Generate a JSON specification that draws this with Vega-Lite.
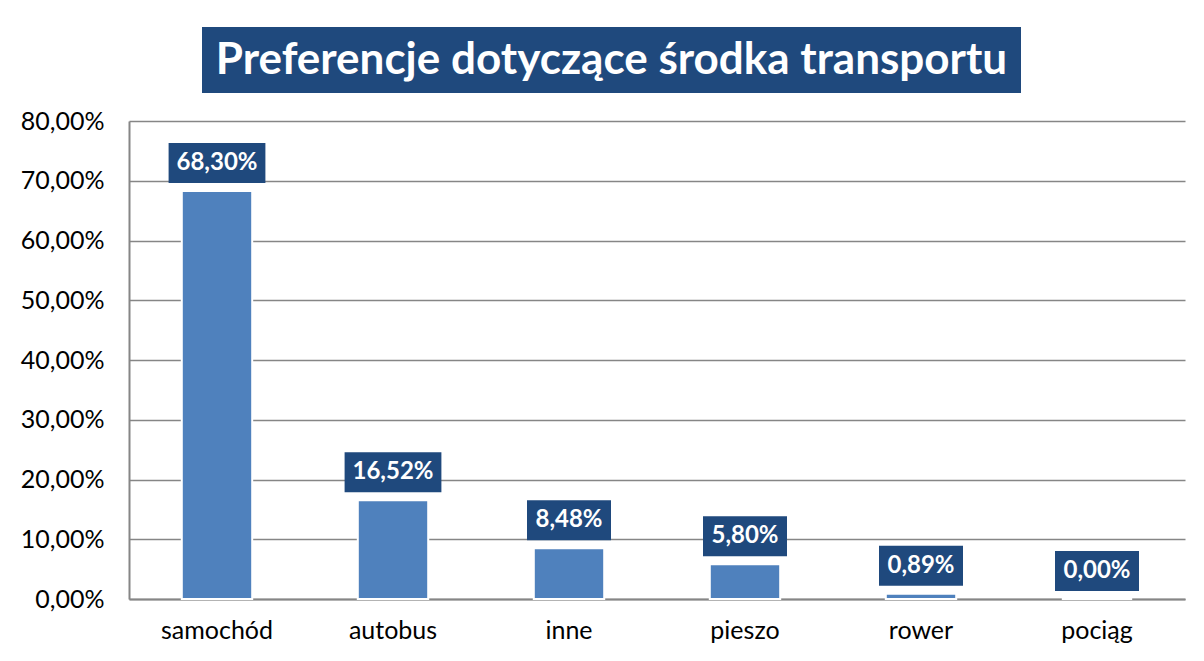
{
  "$schema": "https://vega.github.io/schema/vega-lite/v6.json",
  "config": {
    "locale": {"number": {"decimal": ",", "thousands": " ", "grouping": [3], "currency": ["", " zł"]}},
    "font": "Lato",
    "view": {"stroke": null},
    "background": "white"
  },
  "padding": {"left": 20, "top": 27, "right": 5, "bottom": 5},
  "bounds": "full",
  "spacing": 16,
  "vconcat": [
    {
      "spacing": 0,
      "hconcat": [
        {
          "width": 73,
          "height": 66,
          "data": {"values": []},
          "mark": {"type": "point", "opacity": 0}
        },
        {
          "width": 819,
          "height": 66,
          "view": {"fill": "#1F497D", "stroke": null},
          "data": {"values": [{"tytul": "Preferencje dotyczące środka transportu"}]},
          "mark": {"type": "text", "font": "Lato", "fontWeight": "bold", "fontSize": 44, "color": "white", "baseline": "middle", "align": "center", "dy": 1},
          "encoding": {"text": {"field": "tytul"}}
        }
      ]
    },
    {
      "width": 1056,
      "height": 478,
      "data": {"values": [
        {"kategoria": "samochód", "udzial": 0.683},
        {"kategoria": "autobus", "udzial": 0.1652},
        {"kategoria": "inne", "udzial": 0.0848},
        {"kategoria": "pieszo", "udzial": 0.058},
        {"kategoria": "rower", "udzial": 0.0089},
        {"kategoria": "pociąg", "udzial": 0.0}
      ]},
      "encoding": {
        "x": {
          "field": "kategoria", "type": "nominal", "sort": null,
          "scale": {"paddingInner": 0.6, "paddingOuter": 0.3},
          "axis": {"title": null, "labelAngle": 0, "ticks": false, "labelFontSize": 25, "labelColor": "black", "labelPadding": 19, "domainColor": "#868686", "domainWidth": 2, "labelFont": "Lato"}
        },
        "y": {
          "field": "udzial", "type": "quantitative",
          "scale": {"domain": [0, 0.8], "nice": false},
          "axis": {"title": null, "format": ".2%", "values": [0, 0.1, 0.2, 0.3, 0.4, 0.5, 0.6, 0.7, 0.8], "ticks": false, "labelFontSize": 25, "labelColor": "black", "labelPadding": 25, "gridColor": "#868686", "gridWidth": 1.5, "domainColor": "#868686", "domainWidth": 2, "labelFont": "Lato"}
        }
      },
      "layer": [
        {
          "mark": {"type": "bar", "color": "#4F81BD", "stroke": "white", "strokeWidth": 2}
        },
        {
          "mark": {"type": "point", "filled": true, "opacity": 1, "color": "#1F497D", "strokeWidth": 0, "size": 1600, "yOffset": -28},
          "encoding": {
            "shape": {
              "field": "kategoria", "type": "nominal", "legend": null,
              "scale": {
                "domain": ["samochód", "autobus", "inne", "pieszo", "rower", "pociąg"],
                "range": ["M-2.42,-1H2.42V1H-2.42Z", "M-2.42,-1H2.42V1H-2.42Z", "M-2.1,-1H2.1V1H-2.1Z", "M-2.1,-1H2.1V1H-2.1Z", "M-2.1,-1H2.1V1H-2.1Z", "M-2.1,-1H2.1V1H-2.1Z"]
              }
            }
          }
        },
        {
          "mark": {"type": "text", "color": "white", "font": "Lato", "fontWeight": "bold", "fontSize": 24, "baseline": "middle", "align": "center", "yOffset": -28},
          "encoding": {"text": {"field": "udzial", "type": "quantitative", "format": ".2%"}}
        }
      ]
    }
  ]
}
